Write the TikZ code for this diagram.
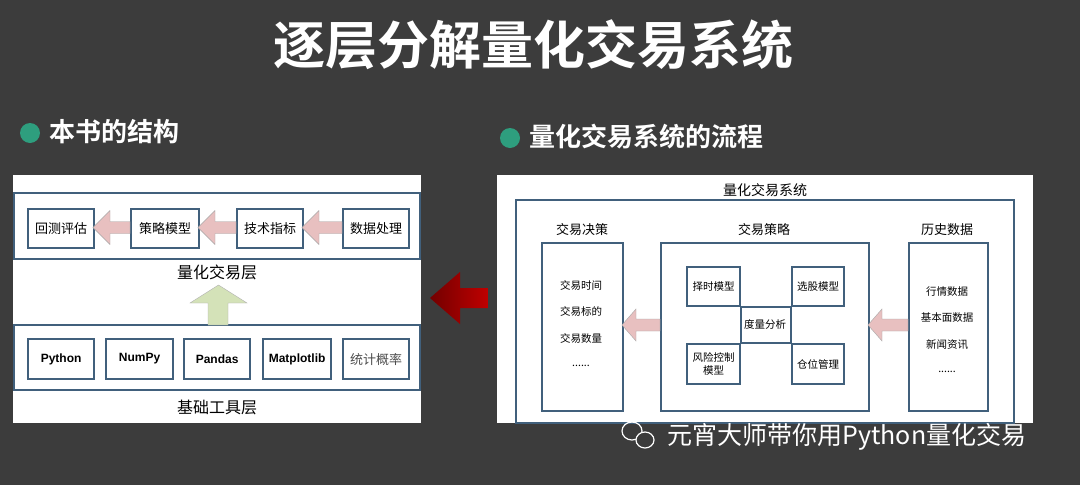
\documentclass[tikz,border=0pt]{standalone}
\usepackage{fontspec}
\setmainfont{Noto Sans CJK SC}
\newfontfamily\cjkb[BoldFont={Noto Sans CJK SC Bold}]{Noto Sans CJK SC}
\newfontfamily\lat{Liberation Sans}
\usetikzlibrary{shapes.geometric}
\definecolor{bg}{HTML}{3C3C3C}
\definecolor{bl}{HTML}{41607C}
\definecolor{pk}{HTML}{E8C0C0}
\definecolor{gr}{HTML}{D4E2B8}
\definecolor{dot}{HTML}{2E9E7E}
\tikzset{
 bx/.style={draw=bl,line width=2.2pt,fill=white,inner sep=0pt},
 lbl/.style={font=\fontsize{13}{15}\selectfont,text=black},
 sm/.style={font=\fontsize{10.5}{13}\selectfont,text=black},
 parr/.style={fill=pk,draw=gray!70,line width=0.4pt},
}
\newcommand{\boxat}[5]{\node[bx,minimum width=#3-#1,minimum height=#4-#2,anchor=north west] at (#1,#2) (#5) {};}
\newcommand{\dd}{......}
\newcommand{\larr}[6]{\draw[parr] (#3,#4-#5) -- (#2,#4-#5) -- (#2,#4-#6) -- (#1,#4) -- (#2,#4+#6) -- (#2,#4+#5) -- (#3,#4+#5) -- cycle;}
\begin{document}
\begin{tikzpicture}[x=1pt,y=-1pt]
\fill[bg] (0,0) rectangle (1080,485);
\useasboundingbox (0,0) rectangle (1080,485);
\node[text=white,font=\cjkb\bfseries\fontsize{52}{56}\selectfont] (title) at (533,45) {逐层分解量化交易系统};
\fill[dot] (30,133) circle (10);
\node[text=white,anchor=west,font=\cjkb\bfseries\fontsize{26}{30}\selectfont] (h1) at (46,132) {本书的结构};
\fill[dot] (510,138) circle (10);
\node[text=white,anchor=west,font=\cjkb\bfseries\fontsize{26}{30}\selectfont] (h2) at (526,137) {量化交易系统的流程};
% left panel
\fill[white] (13,175) rectangle (421,423);
\draw[draw=bl,line width=2.2pt] (14,193) rectangle (420,259);
\draw[draw=bl,line width=2.2pt] (14,325) rectangle (420,390);
\boxat{27}{208}{93}{247}{a1}\node[lbl] at (a1) {回测评估};
\boxat{130}{208}{198}{247}{a2}\node[lbl] at (a2) {策略模型};
\boxat{236}{208}{302}{247}{a3}\node[lbl] at (a3) {技术指标};
\boxat{342}{208}{408}{247}{a4}\node[lbl] at (a4) {数据处理};
\larr{93}{110}{130}{227.5}{6}{17}
\larr{198}{215}{236}{227.5}{6}{17}
\larr{302}{319}{342}{227.5}{6}{17}
\node[lbl,font=\fontsize{16}{18}\selectfont] (l1) at (217,272) {量化交易层};
\draw[fill=gr,draw=gray!60,line width=0.4pt] (208,325) -- (208,303) -- (190,303) -- (218.5,285) -- (247,303) -- (228,303) -- (228,325) -- cycle;
\boxat{27}{338}{93}{378}{b1}\node[lbl,font=\lat\bfseries\fontsize{12}{14}\selectfont] at (b1) {Python};
\boxat{105}{338}{172}{378}{b2}\node[lbl,font=\lat\bfseries\fontsize{12}{14}\selectfont] at (b2) {NumPy};
\boxat{183}{338}{249}{378}{b3}\node[lbl,font=\lat\bfseries\fontsize{12}{14}\selectfont] at (b3) {Pandas};
\boxat{262}{338}{330}{378}{b4}\node[lbl,font=\lat\bfseries\fontsize{12}{14}\selectfont] at (b4) {Matplotlib};
\boxat{342}{338}{408}{378}{b5}\node[lbl,text=black!70] at (b5) {统计概率};
\node[lbl,font=\fontsize{16}{18}\selectfont] (l2) at (217,407) {基础工具层};
% red arrow
\shade[left color=red!45!black,right color=red!75!black] (488,288) -- (460,288) -- (460,272) -- (430,298) -- (460,324) -- (460,308) -- (488,308) -- cycle;
% right panel
\fill[white] (497,175) rectangle (1033,423);
\node[lbl,font=\fontsize{14}{16}\selectfont] (rt) at (765,190) {量化交易系统};
\draw[draw=bl,line width=2.2pt] (516,200) rectangle (1014,423);
\boxat{541}{242}{622}{410}{d}
\boxat{660}{242}{868}{410}{s}
\boxat{908}{242}{987}{410}{h}
\node[lbl] at (582,230) {交易决策};
\node[lbl] at (764,230) {交易策略};
\node[lbl] at (947,230) {历史数据};
\foreach \t/\y in {交易时间/285,交易标的/311,交易数量/338,\dd/366}{\node[sm] at (581,\y) {\t};}
\foreach \t/\y in {行情数据/292,基本面数据/318,新闻资讯/345,\dd/372}{\node[sm] at (947,\y) {\t};}
\boxat{686}{266}{739}{305}{m1}\node[sm] at (m1) {择时模型};
\boxat{791}{266}{843}{305}{m2}\node[sm] at (m2) {选股模型};
\boxat{686}{343}{739}{383}{m3}\node[sm,align=center] at (m3) {风险控制\\模型};
\boxat{791}{343}{843}{383}{m4}\node[sm] at (m4) {仓位管理};
\draw[bl,line width=2.2pt] (m1.south east) rectangle (m4.north west);
\node[sm] at (765,324) {度量分析};
\larr{622}{636}{660}{325}{6}{16}
\larr{868}{882}{908}{325}{6}{16}
% watermark
\fill[bg] (497,424) rectangle (1080,485);
\draw[white,line width=1.2pt] (632,431) ellipse (10 and 9);
\draw[white,line width=1.2pt,fill=bg] (645,440) ellipse (9 and 8);
\node[text=white,anchor=west,font=\fontsize{25}{28}\selectfont] (wm) at (664,437) {元宵大师带你用Python量化交易};
\end{tikzpicture}
\end{document}
